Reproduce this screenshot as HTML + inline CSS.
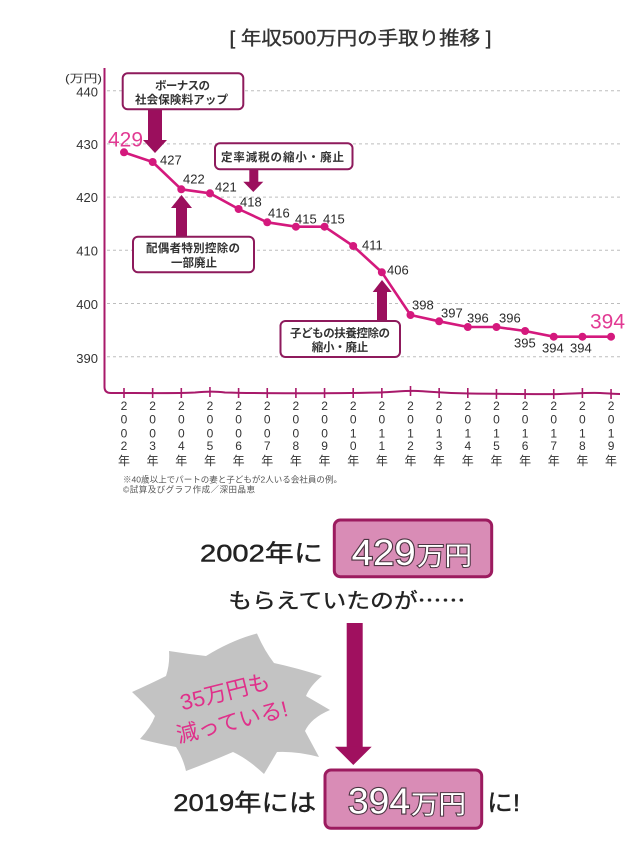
<!DOCTYPE html>
<html><head><meta charset="utf-8">
<style>
html,body{margin:0;padding:0;background:#fff;}
svg{display:block;}
text{font-family:"Liberation Sans","Noto Sans CJK JP",sans-serif;}
</style></head>
<body>
<svg width="640" height="861" viewBox="0 0 640 861" xmlns="http://www.w3.org/2000/svg">
<rect width="640" height="861" fill="#fff"/>
<!-- Title -->
<text x="229.5" y="44.5" font-size="19" fill="#333" stroke="#333" stroke-width="0.35" textLength="262" lengthAdjust="spacingAndGlyphs">[ 年収500万円の手取り推移 ]</text>

<!-- gridlines -->
<g stroke="#bdbdbd" stroke-width="1" stroke-dasharray="3 3">
<line x1="107" y1="90.7" x2="620" y2="90.7"/>
<line x1="107" y1="143.9" x2="620" y2="143.9"/>
<line x1="107" y1="197.1" x2="620" y2="197.1"/>
<line x1="107" y1="250.3" x2="620" y2="250.3"/>
<line x1="107" y1="303.5" x2="620" y2="303.5"/>
<line x1="107" y1="356.7" x2="620" y2="356.7"/>
</g>

<!-- axes -->
<path d="M104.5 68 L104.5 387 Q104.5 393 111 393 C140 393 180 393.5 195 392.5 C205 391.5 215 391 225 392.5 C260 393.5 330 393.5 380 392.5 C395 392 405 390.5 418 391 C430 391.5 440 393 470 393.5 C520 394 540 394.5 560 394 C575 393.5 590 392.5 600 393 C610 393.5 615 394 620 394" fill="none" stroke="#a8196a" stroke-width="2"/>
<g stroke="#a8196a" stroke-width="1.6">
<line x1="124" y1="388" x2="124" y2="398"/>
<line x1="152.65" y1="388" x2="152.65" y2="398"/>
<line x1="181.3" y1="388" x2="181.3" y2="398"/>
<line x1="209.95" y1="387" x2="209.95" y2="397"/>
<line x1="238.6" y1="388" x2="238.6" y2="398"/>
<line x1="267.25" y1="388" x2="267.25" y2="398"/>
<line x1="295.9" y1="388" x2="295.9" y2="398"/>
<line x1="324.55" y1="388" x2="324.55" y2="398"/>
<line x1="353.2" y1="388" x2="353.2" y2="398"/>
<line x1="381.85" y1="388" x2="381.85" y2="398"/>
<line x1="410.5" y1="386" x2="410.5" y2="396"/>
<line x1="439.15" y1="388" x2="439.15" y2="398"/>
<line x1="467.8" y1="388" x2="467.8" y2="398"/>
<line x1="496.45" y1="389" x2="496.45" y2="399"/>
<line x1="525.1" y1="389" x2="525.1" y2="399"/>
<line x1="553.75" y1="389" x2="553.75" y2="399"/>
<line x1="582.4" y1="388" x2="582.4" y2="398"/>
<line x1="611.05" y1="389" x2="611.05" y2="399"/>
</g>

<!-- y labels -->
<g font-size="13" fill="#333" text-anchor="end">
<text x="98" y="96.5">440</text>
<text x="98" y="148.8">430</text>
<text x="98" y="201.8">420</text>
<text x="98" y="255.5">410</text>
<text x="98" y="308.8">400</text>
<text x="98" y="362.8">390</text>
</g>
<text x="65" y="82" font-size="11" fill="#333" textLength="37" lengthAdjust="spacingAndGlyphs">(万円)</text>

<!-- data line -->
<polyline fill="none" stroke="#d4197d" stroke-width="2.6" stroke-linejoin="round" points="124,152.3 152.65,162 181.3,189.3 209.95,193.3 238.6,209 267.25,222.3 295.9,226.7 324.55,226.7 353.2,246 381.85,272.3 410.5,315 439.15,321.3 467.8,327 496.45,327 525.1,331 553.75,336.7 582.4,336.7 611.05,336.7"/>
<g fill="#d4197d">
<circle cx="124" cy="152.3" r="4"/>
<circle cx="152.65" cy="162" r="4"/>
<circle cx="181.3" cy="189.3" r="4"/>
<circle cx="209.95" cy="193.3" r="4"/>
<circle cx="238.6" cy="209" r="4"/>
<circle cx="267.25" cy="222.3" r="4"/>
<circle cx="295.9" cy="226.7" r="4"/>
<circle cx="324.55" cy="226.7" r="4"/>
<circle cx="353.2" cy="246" r="4"/>
<circle cx="381.85" cy="272.3" r="4"/>
<circle cx="410.5" cy="315" r="4"/>
<circle cx="439.15" cy="321.3" r="4"/>
<circle cx="467.8" cy="327" r="4"/>
<circle cx="496.45" cy="327" r="4"/>
<circle cx="525.1" cy="331" r="4"/>
<circle cx="553.75" cy="336.7" r="4"/>
<circle cx="582.4" cy="336.7" r="4"/>
<circle cx="611.05" cy="336.7" r="4"/>
</g>

<!-- data labels -->
<g font-size="13" fill="#2a2a2a">
<text x="160" y="164.6">427</text>
<text x="183" y="183.6">422</text>
<text x="215" y="191.6">421</text>
<text x="240" y="206.6">418</text>
<text x="268" y="217.6">416</text>
<text x="295" y="223.6">415</text>
<text x="323" y="223.6">415</text>
<text x="362" y="249.6">411</text>
<text x="387" y="274.6">406</text>
<text x="412" y="309.6">398</text>
<text x="441" y="317.3">397</text>
<text x="467" y="322.6">396</text>
<text x="499" y="322.6">396</text>
<text x="514" y="347.3">395</text>
<text x="542" y="352.3">394</text>
<text x="570" y="352.3">394</text>
</g>
<text x="108" y="146.5" font-size="21" fill="#e23a93" textLength="35" lengthAdjust="spacingAndGlyphs">429</text>
<text x="590" y="328.5" font-size="21" fill="#e23a93" textLength="35" lengthAdjust="spacingAndGlyphs">394</text>

<!-- annotation arrows -->
<g fill="#9b0f5d">
<rect x="148" y="109" width="14" height="32"/>
<polygon points="143,140 167,140 155,153"/>
<rect x="249.3" y="169" width="9" height="14"/>
<polygon points="243.3,181.7 263.3,181.7 253.3,192"/>
<rect x="176" y="207" width="11" height="30"/>
<polygon points="171,208 192,208 181.5,195"/>
<rect x="377" y="291" width="10" height="30"/>
<polygon points="372.7,292 391.7,292 382,280"/>
</g>

<!-- annotation boxes -->
<g fill="#fff" stroke="#8e1a5c" stroke-width="2">
<rect x="122.7" y="73.3" width="120.6" height="36" rx="5"/>
<rect x="215" y="143.3" width="137.5" height="26" rx="5"/>
<rect x="133" y="236.7" width="121" height="35.6" rx="5"/>
<rect x="280.5" y="321" width="119.5" height="36" rx="5"/>
</g>
<g font-size="11.5" font-weight="bold" fill="#333" lengthAdjust="spacingAndGlyphs">
<text x="155" y="89.4" textLength="55">ボーナスの</text>
<text x="135" y="103.7" textLength="93">社会保険料アップ</text>
<text x="221" y="161" textLength="123">定率減税の縮小・廃止</text>
<text x="146" y="252" textLength="94">配偶者特別控除の</text>
<text x="171" y="266.7" textLength="46">一部廃止</text>
<text x="290" y="337" textLength="100">子どもの扶養控除の</text>
<text x="311.7" y="351" textLength="56.6">縮小・廃止</text>
</g>

<!-- x labels -->
<g font-size="12" fill="#333" text-anchor="middle">
<text x="124" y="410">2</text><text x="124" y="423.3">0</text><text x="124" y="437.3">0</text><text x="124" y="450">2</text><text x="124" y="465">年</text>
<text x="152.65" y="410">2</text><text x="152.65" y="423.3">0</text><text x="152.65" y="437.3">0</text><text x="152.65" y="450">3</text><text x="152.65" y="465">年</text>
<text x="181.3" y="410">2</text><text x="181.3" y="423.3">0</text><text x="181.3" y="437.3">0</text><text x="181.3" y="450">4</text><text x="181.3" y="465">年</text>
<text x="209.95" y="410">2</text><text x="209.95" y="423.3">0</text><text x="209.95" y="437.3">0</text><text x="209.95" y="450">5</text><text x="209.95" y="465">年</text>
<text x="238.6" y="410">2</text><text x="238.6" y="423.3">0</text><text x="238.6" y="437.3">0</text><text x="238.6" y="450">6</text><text x="238.6" y="465">年</text>
<text x="267.25" y="410">2</text><text x="267.25" y="423.3">0</text><text x="267.25" y="437.3">0</text><text x="267.25" y="450">7</text><text x="267.25" y="465">年</text>
<text x="295.9" y="410">2</text><text x="295.9" y="423.3">0</text><text x="295.9" y="437.3">0</text><text x="295.9" y="450">8</text><text x="295.9" y="465">年</text>
<text x="324.55" y="410">2</text><text x="324.55" y="423.3">0</text><text x="324.55" y="437.3">0</text><text x="324.55" y="450">9</text><text x="324.55" y="465">年</text>
<text x="353.2" y="410">2</text><text x="353.2" y="423.3">0</text><text x="353.2" y="437.3">1</text><text x="353.2" y="450">0</text><text x="353.2" y="465">年</text>
<text x="381.85" y="410">2</text><text x="381.85" y="423.3">0</text><text x="381.85" y="437.3">1</text><text x="381.85" y="450">1</text><text x="381.85" y="465">年</text>
<text x="410.5" y="410">2</text><text x="410.5" y="423.3">0</text><text x="410.5" y="437.3">1</text><text x="410.5" y="450">2</text><text x="410.5" y="465">年</text>
<text x="439.15" y="410">2</text><text x="439.15" y="423.3">0</text><text x="439.15" y="437.3">1</text><text x="439.15" y="450">3</text><text x="439.15" y="465">年</text>
<text x="467.8" y="410">2</text><text x="467.8" y="423.3">0</text><text x="467.8" y="437.3">1</text><text x="467.8" y="450">4</text><text x="467.8" y="465">年</text>
<text x="496.45" y="410">2</text><text x="496.45" y="423.3">0</text><text x="496.45" y="437.3">1</text><text x="496.45" y="450">5</text><text x="496.45" y="465">年</text>
<text x="525.1" y="410">2</text><text x="525.1" y="423.3">0</text><text x="525.1" y="437.3">1</text><text x="525.1" y="450">6</text><text x="525.1" y="465">年</text>
<text x="553.75" y="410">2</text><text x="553.75" y="423.3">0</text><text x="553.75" y="437.3">1</text><text x="553.75" y="450">7</text><text x="553.75" y="465">年</text>
<text x="582.4" y="410">2</text><text x="582.4" y="423.3">0</text><text x="582.4" y="437.3">1</text><text x="582.4" y="450">8</text><text x="582.4" y="465">年</text>
<text x="611.05" y="410">2</text><text x="611.05" y="423.3">0</text><text x="611.05" y="437.3">1</text><text x="611.05" y="450">9</text><text x="611.05" y="465">年</text>
</g>

<!-- footnote -->
<g font-size="8.5" fill="#555" lengthAdjust="spacingAndGlyphs">
<text x="123" y="482.5" textLength="219">※40歳以上でパートの妻と子どもが2人いる会社員の例。</text>
<text x="123" y="492.5" textLength="132">©試算及びグラフ作成／深田晶恵</text>
</g>

<!-- bottom section -->
<text x="200" y="561.5" font-size="24" fill="#222" stroke="#222" stroke-width="0.4" textLength="123" lengthAdjust="spacingAndGlyphs">2002年に</text>
<rect x="334.3" y="520" width="157.4" height="56.7" rx="6" fill="#d98cb6" stroke="#9c1b5f" stroke-width="3"/>
<text x="351.7" y="565" font-size="36" fill="#fff" stroke="#4b3542" stroke-width="2.2" paint-order="stroke" textLength="64" lengthAdjust="spacingAndGlyphs">429</text>
<text x="417" y="565" font-size="26" fill="#fff" stroke="#4b3542" stroke-width="2" paint-order="stroke" textLength="55" lengthAdjust="spacingAndGlyphs">万円</text>
<text x="228.3" y="608" font-size="21" fill="#222" stroke="#222" stroke-width="0.35" textLength="237" lengthAdjust="spacingAndGlyphs">もらえていたのが<tspan font-family="Noto Sans CJK JP, sans-serif">……</tspan></text>

<!-- big arrow -->
<rect x="346.7" y="623" width="16" height="125" fill="#a0105f"/>
<polygon points="335,746.7 371.7,746.7 353.3,765" fill="#a0105f"/>

<!-- burst -->
<path d="M257,633.5 Q264,650 274,663 Q297,668 322,676 Q310,686 306,696 Q318,703 330,710 Q311,718 305,731 Q312,744 319,757 Q296,751 277,752 Q270,764 264,774 Q248,759 233,752 Q210,762 186,771 Q183,758 176,747 Q160,744 140,739 Q151,727 155,716 Q145,704 132,692 Q150,684 166,676 Q170,664 169,651 Q188,654 206,656 Q232,640 257,633.5 Z" fill="#c3c3c3"/>
<text x="225" y="699.5" font-size="22" fill="#e0308a" text-anchor="middle" textLength="92" lengthAdjust="spacingAndGlyphs" transform="rotate(-14 225 691.7)">35万円も</text>
<text x="232" y="729.5" font-size="22" fill="#e0308a" text-anchor="middle" textLength="114" lengthAdjust="spacingAndGlyphs" transform="rotate(-14 232 721.7)">減っている!</text>

<text x="173.3" y="811" font-size="24" fill="#222" stroke="#222" stroke-width="0.4" textLength="143" lengthAdjust="spacingAndGlyphs">2019年には</text>
<rect x="325" y="770" width="156.7" height="58.3" rx="6" fill="#d98cb6" stroke="#9c1b5f" stroke-width="3"/>
<text x="348" y="813.5" font-size="36" fill="#fff" stroke="#4b3542" stroke-width="2.2" paint-order="stroke" textLength="62" lengthAdjust="spacingAndGlyphs">394</text>
<text x="411" y="813.5" font-size="26" fill="#fff" stroke="#4b3542" stroke-width="2" paint-order="stroke" textLength="55" lengthAdjust="spacingAndGlyphs">万円</text>
<text x="487" y="811" font-size="24" fill="#222" stroke="#222" stroke-width="0.4" textLength="33" lengthAdjust="spacingAndGlyphs">に!</text>
</svg>
</body></html>
